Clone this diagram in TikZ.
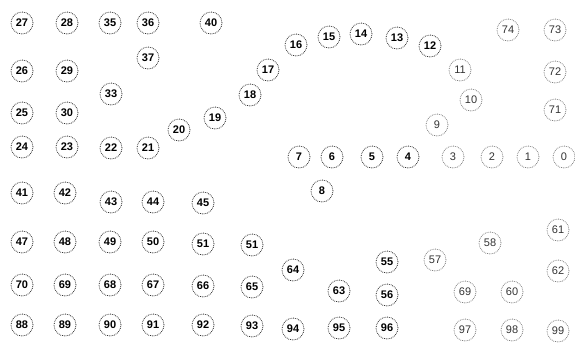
\documentclass[tikz,border=0pt]{standalone}
\usepackage{fontspec}
\setmainfont{Liberation Sans}
\begin{document}
\begin{tikzpicture}[x=1pt,y=-1pt,
  num/.style={circle,draw=black!80,densely dotted,line width=0.8pt,minimum size=22pt,inner sep=0pt,font=\bfseries\fontsize{11}{11}\selectfont},
  lite/.style={num,draw=black!50,text=black!80,font=\fontsize{11}{11}\selectfont}]
\useasboundingbox (0,0) rectangle (575,343);
% left block
\node[num] (n27) at (22,23) {27};
\node[num] (n28) at (67,23) {28};
\node[num] (n35) at (110,23) {35};
\node[num] (n36) at (148,23) {36};
\node[num] (n40) at (211,23) {40};
\node[num] (n37) at (148,58) {37};
\node[num] (n26) at (22,71) {26};
\node[num] (n29) at (67,71) {29};
\node[num] (n33) at (111,94) {33};
\node[num] (n25) at (22,113) {25};
\node[num] (n30) at (67,113) {30};
\node[num] (n24) at (22,147) {24};
\node[num] (n23) at (67,147) {23};
\node[num] (n22) at (111,148) {22};
\node[num] (n21) at (148,148) {21};
\node[num] (n20) at (179,130) {20};
\node[num] (n19) at (215,118) {19};
\node[num] (n18) at (250,95) {18};
\node[num] (n17) at (268,70) {17};
\node[num] (n16) at (296,45) {16};
\node[num] (n15) at (329,37) {15};
\node[num] (n14) at (361,34) {14};
\node[num] (n13) at (397,38) {13};
\node[num] (n12) at (430,46) {12};
\node[lite] (n11) at (460,70) {11};
\node[lite] (n10) at (471,100) {10};
\node[lite] (n9) at (437,125) {9};
\node[lite] (n74) at (508,30) {74};
\node[lite] (n73) at (555,30) {73};
\node[lite] (n72) at (555,72) {72};
\node[lite] (n71) at (555,110) {71};
\node[num] (n7) at (299,157) {7};
\node[num] (n6) at (332,157) {6};
\node[num] (n5) at (372,157) {5};
\node[num] (n4) at (408,157) {4};
\node[lite] (n3) at (453,157) {3};
\node[lite] (n2) at (492,157) {2};
\node[lite] (n1) at (528,157) {1};
\node[lite] (n0) at (564,157) {0};
\node[num] (n8) at (322,191) {8};
% lower block
\node[num] (n41) at (22,193) {41};
\node[num] (n42) at (65,193) {42};
\node[num] (n43) at (111,202) {43};
\node[num] (n44) at (153,202) {44};
\node[num] (n45) at (203,203) {45};
\node[num] (n47) at (22,242) {47};
\node[num] (n48) at (65,242) {48};
\node[num] (n49) at (110,242) {49};
\node[num] (n50) at (153,242) {50};
\node[num] (n51a) at (203,244) {51};
\node[num] (n51b) at (252,245) {51};
\node[num] (n70) at (22,285) {70};
\node[num] (n69a) at (65,285) {69};
\node[num] (n68) at (110,285) {68};
\node[num] (n67) at (153,285) {67};
\node[num] (n66) at (203,286) {66};
\node[num] (n65) at (252,287) {65};
\node[num] (n88) at (22,325) {88};
\node[num] (n89) at (65,325) {89};
\node[num] (n90) at (110,325) {90};
\node[num] (n91) at (153,325) {91};
\node[num] (n92) at (203,325) {92};
\node[num] (n93) at (252,326) {93};
\node[num] (n64) at (293,270) {64};
\node[num] (n63) at (339,291) {63};
\node[num] (n55) at (387,262) {55};
\node[num] (n56) at (387,295) {56};
\node[lite] (n57) at (435,260) {57};
\node[lite] (n58) at (490,243) {58};
\node[lite] (n61) at (558,230) {61};
\node[lite] (n62) at (558,271) {62};
\node[lite] (n69b) at (465,292) {69};
\node[lite] (n60) at (512,292) {60};
\node[num] (n94) at (293,329) {94};
\node[num] (n95) at (339,328) {95};
\node[num] (n96) at (387,328) {96};
\node[lite] (n97) at (465,330) {97};
\node[lite] (n98) at (512,330) {98};
\node[lite] (n99) at (558,331) {99};
\end{tikzpicture}
\end{document}
